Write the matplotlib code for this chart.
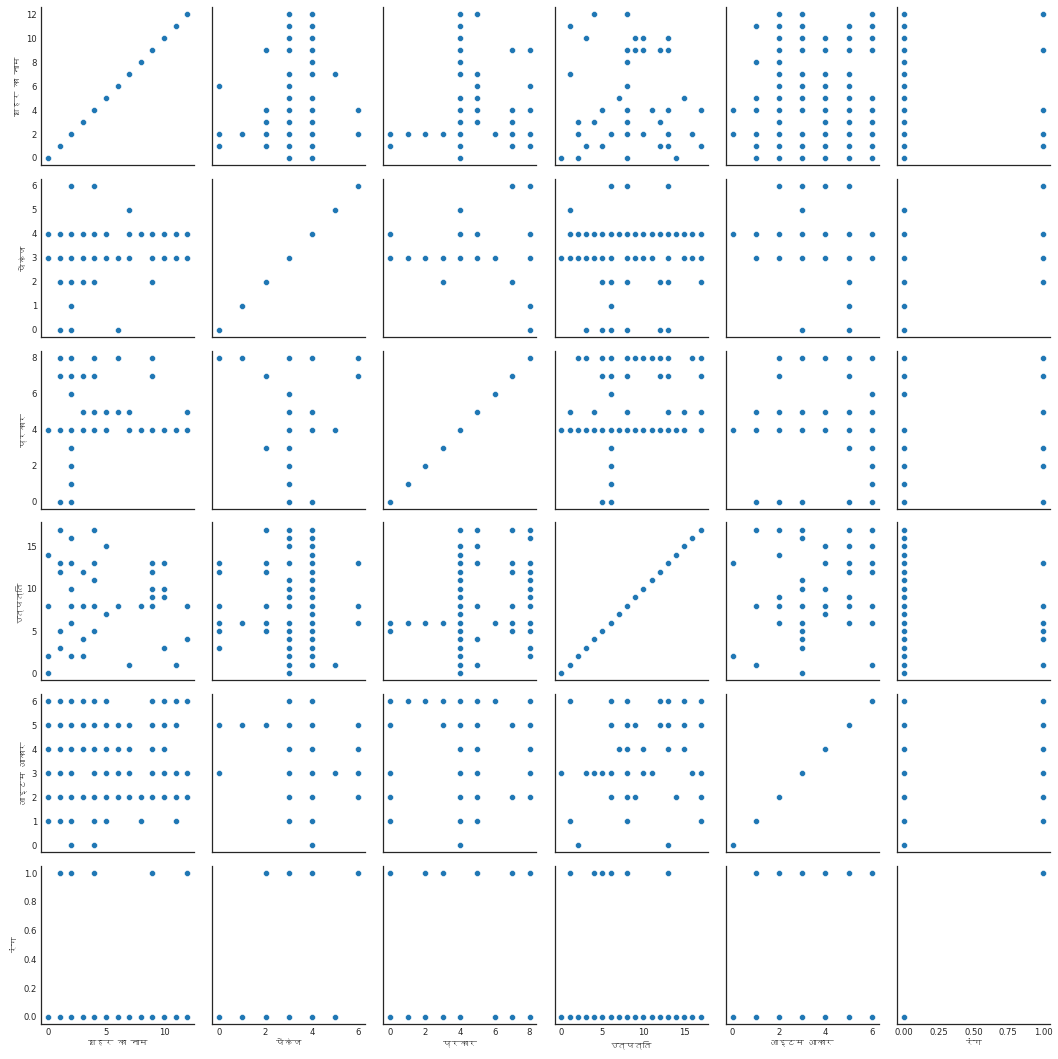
import matplotlib
matplotlib.use("Agg")
import matplotlib.pyplot as plt
import matplotlib.font_manager as fm
from matplotlib.ft2font import FT2Font
from matplotlib.ticker import FixedLocator

# ---------------- data (label-encoded pumpkin columns) ----------------
var_names = ["शहर का नाम", "पैकेज", "प्रकार", "उत्पत्ति", "आइटम आकार", "रंग"]

city_values = [0, 1, 2, 3, 4, 5, 6, 7, 8, 9, 10, 11, 12]
package_values = [0, 1, 2, 3, 4, 5, 6]
variety_values = [0, 1, 2, 3, 4, 5, 6, 7, 8]
origin_values = [0, 1, 2, 3, 4, 5, 6, 7, 8, 9, 10, 11, 12, 13, 14, 15, 16, 17]
size_values = [0, 1, 2, 3, 4, 5, 6]
color_values = [0, 1]

# tick labels shown on the axes
x_ticks = [
    [0, 5, 10],
    [0, 2, 4, 6],
    [0, 2, 4, 6, 8],
    [0, 5, 10, 15],
    [0, 2, 4, 6],
    [0.0, 0.25, 0.5, 0.75, 1.0],
]
y_ticks = [
    [0, 2, 4, 6, 8, 10, 12],
    [0, 1, 2, 3, 4, 5, 6],
    [0, 2, 4, 6, 8],
    [0, 5, 10, 15],
    [0, 1, 2, 3, 4, 5, 6],
    [0.0, 0.2, 0.4, 0.6, 0.8, 1.0],
]
x_tick_labels = [
    ["0", "5", "10"],
    ["0", "2", "4", "6"],
    ["0", "2", "4", "6", "8"],
    ["0", "5", "10", "15"],
    ["0", "2", "4", "6"],
    ["0.00", "0.25", "0.50", "0.75", "1.00"],
]
y_tick_labels = [
    ["0", "2", "4", "6", "8", "10", "12"],
    ["0", "1", "2", "3", "4", "5", "6"],
    ["0", "2", "4", "6", "8"],
    ["0", "5", "10", "15"],
    ["0", "1", "2", "3", "4", "5", "6"],
    ["0.0", "0.2", "0.4", "0.6", "0.8", "1.0"],
]

# package -> cities
city_by_package = {
    0: [1, 2, 6],
    1: [2],
    2: [1, 2, 3, 4, 9],
    3: [0, 1, 2, 3, 4, 5, 6, 7, 9, 10, 11, 12],
    4: [0, 1, 2, 3, 4, 5, 7, 8, 9, 10, 11, 12],
    5: [7],
    6: [2, 4],
}
# variety -> cities
city_by_variety = {
    0: [1, 2],
    1: [2],
    2: [2],
    3: [2],
    4: [0, 1, 2, 3, 4, 5, 7, 8, 9, 10, 11, 12],
    5: [3, 4, 5, 6, 7, 12],
    6: [2],
    7: [1, 2, 3, 4, 9],
    8: [1, 2, 4, 6, 9],
}
# origin -> cities
city_by_origin = {
    0: [0], 1: [7, 11], 2: [0, 2, 3], 3: [1, 10], 4: [3, 12], 5: [1, 4],
    6: [2], 7: [5], 8: [0, 2, 3, 4, 6, 8, 9, 12], 9: [9, 10], 10: [2, 9, 10],
    11: [4], 12: [1, 3, 9], 13: [1, 2, 4, 9, 10], 14: [0], 15: [5], 16: [2],
    17: [1, 4],
}
# city -> item sizes
size_by_city = {
    0: [1, 2, 3, 4, 5, 6], 1: [1, 2, 3, 4, 5, 6], 2: [0, 1, 2, 3, 4, 5, 6],
    3: [2, 4, 5, 6], 4: [0, 1, 2, 3, 4, 5, 6], 5: [1, 2, 3, 4, 5, 6],
    6: [2, 3, 4, 5], 7: [2, 3, 4, 5], 8: [1, 2], 9: [2, 3, 4, 5, 6],
    10: [2, 3, 4, 5, 6], 11: [1, 2, 3, 5, 6], 12: [2, 3, 6],
}
# color -> cities
city_by_color = {
    0: [0, 1, 2, 3, 4, 5, 6, 7, 8, 9, 10, 11, 12],
    1: [1, 2, 4, 9, 12],
}
# package -> varieties
variety_by_package = {
    0: [8], 1: [8], 2: [3, 7], 3: [0, 1, 2, 3, 4, 5, 6, 8],
    4: [0, 4, 5, 8], 5: [4], 6: [7, 8],
}
# package -> origins
origin_by_package = {
    0: [3, 5, 6, 8, 12, 13],
    1: [6],
    2: [5, 6, 8, 12, 13, 17],
    3: [0, 1, 2, 3, 4, 5, 6, 8, 9, 10, 11, 13, 15, 16, 17],
    4: [1, 2, 3, 4, 5, 6, 7, 8, 9, 10, 11, 12, 13, 14, 15, 16, 17],
    5: [1],
    6: [6, 8, 13],
}
# package -> item sizes
size_by_package = {
    0: [3, 5], 1: [5], 2: [5], 3: [1, 2, 3, 4, 5, 6],
    4: [0, 1, 2, 3, 4, 5, 6], 5: [3], 6: [2, 3, 4, 5],
}
# color -> packages
package_by_color = {0: [0, 1, 2, 3, 4, 5], 1: [2, 3, 4, 6]}
# variety -> origins
origin_by_variety = {
    0: [5, 6], 1: [6], 2: [6], 3: [6],
    4: [0, 1, 2, 3, 4, 5, 6, 7, 8, 9, 10, 11, 12, 13, 14, 15, 17],
    5: [1, 4, 8, 13, 15, 17], 6: [6],
    7: [5, 6, 8, 12, 13, 17],
    8: [2, 3, 5, 6, 8, 9, 10, 11, 12, 13, 16, 17],
}
# variety -> item sizes
size_by_variety = {
    0: [1, 2, 3, 5, 6], 1: [6], 2: [6], 3: [5, 6],
    4: [0, 1, 2, 3, 4, 5, 6], 5: [1, 2, 3, 4, 5, 6], 6: [6],
    7: [2, 5], 8: [2, 3, 4, 5, 6],
}
# color -> varieties
variety_by_color = {0: [0, 1, 2, 3, 4, 6, 7, 8], 1: [0, 2, 3, 5, 7, 8]}
# item size -> origins
origin_by_size = {
    0: [2, 13],
    1: [1, 8, 17],
    2: [6, 8, 9, 14, 17],
    3: [0, 3, 4, 5, 6, 8, 10, 11, 16, 17],
    4: [7, 8, 10, 13, 15],
    5: [6, 8, 9, 12, 13, 15, 17],
    6: [1, 6, 8, 12, 13, 15, 17],
}
# color -> origins
origin_by_color = {
    0: [0, 1, 2, 3, 4, 5, 6, 7, 8, 9, 10, 11, 12, 13, 14, 15, 16, 17],
    1: [1, 4, 5, 6, 8, 13],
}
# color -> item sizes
size_by_color = {0: [0, 1, 2, 3, 4, 5, 6], 1: [1, 2, 3, 4, 5, 6]}

diag_values = [city_values, package_values, variety_values,
               origin_values, size_values, color_values]

# (key variable index, value variable index) -> mapping
pair_data = {
    (1, 0): city_by_package,
    (2, 0): city_by_variety,
    (3, 0): city_by_origin,
    (0, 4): size_by_city,
    (5, 0): city_by_color,
    (1, 2): variety_by_package,
    (1, 3): origin_by_package,
    (1, 4): size_by_package,
    (5, 1): package_by_color,
    (2, 3): origin_by_variety,
    (2, 4): size_by_variety,
    (5, 2): variety_by_color,
    (4, 3): origin_by_size,
    (5, 3): origin_by_color,
    (5, 4): size_by_color,
}


def panel_points(row, col):
    """x values belong to variable `col`, y values to variable `row`."""
    if row == col:
        return list(diag_values[row]), list(diag_values[row])
    xs, ys = [], []
    if (col, row) in pair_data:
        for k, vals in pair_data[(col, row)].items():
            for v in vals:
                xs.append(k)
                ys.append(v)
    else:
        for k, vals in pair_data[(row, col)].items():
            for v in vals:
                xs.append(v)
                ys.append(k)
    return xs, ys


# ---------------- fonts ----------------
deva = None
for f in fm.fontManager.ttflist:
    try:
        cmap = FT2Font(f.fname).get_charmap()
        if 0x0915 in cmap and 0x093E in cmap and 0x0930 in cmap:
            deva = f.name
            break
    except Exception:
        pass
label_families = ([deva] if deva else []) + ["DejaVu Sans"]
plt.rcParams["font.family"] = ["DejaVu Sans"]
plt.rcParams["axes.unicode_minus"] = False

# ---------------- figure ----------------
DPI = 72
fig, axes = plt.subplots(6, 6, figsize=(1058 / DPI, 1059 / DPI), dpi=DPI,
                         sharex="col", sharey="row")
fig.subplots_adjust(left=0.0388, right=0.9924, bottom=0.033, top=0.9934,
                    wspace=0.118, hspace=0.086)

spine_color = "#262626"
for r in range(6):
    for c in range(6):
        ax = axes[r, c]
        xs, ys = panel_points(r, c)
        ax.scatter(xs, ys, s=36, color="#1f77b4", edgecolor="white",
                   linewidth=0.5, zorder=3)
        ax.set_facecolor("white")
        for side in ("top", "right"):
            ax.spines[side].set_visible(False)
        for side in ("left", "bottom"):
            ax.spines[side].set_color(spine_color)
            ax.spines[side].set_linewidth(1.25)
        ax.grid(False)

for c in range(6):
    axes[5, c].xaxis.set_major_locator(FixedLocator(x_ticks[c]))
    axes[5, c].set_xticklabels(x_tick_labels[c])
    axes[5, c].set_xlabel(var_names[c], fontsize=8.5, color="#262626",
                          family=label_families, labelpad=3)
for r in range(6):
    axes[r, 0].yaxis.set_major_locator(FixedLocator(y_ticks[r]))
    axes[r, 0].set_yticklabels(y_tick_labels[r])
    axes[r, 0].set_ylabel(var_names[r], fontsize=8.5, color="#262626",
                          family=label_families, labelpad=4)

for r in range(6):
    for c in range(6):
        ax = axes[r, c]
        ax.tick_params(axis="both", length=0, labelsize=8.5,
                       labelcolor="#262626", pad=4)
        if c != 0:
            ax.tick_params(axis="y", labelleft=False)
        if r != 5:
            ax.tick_params(axis="x", labelbottom=False)

fig.savefig("out.png", dpi=DPI, facecolor="white")
